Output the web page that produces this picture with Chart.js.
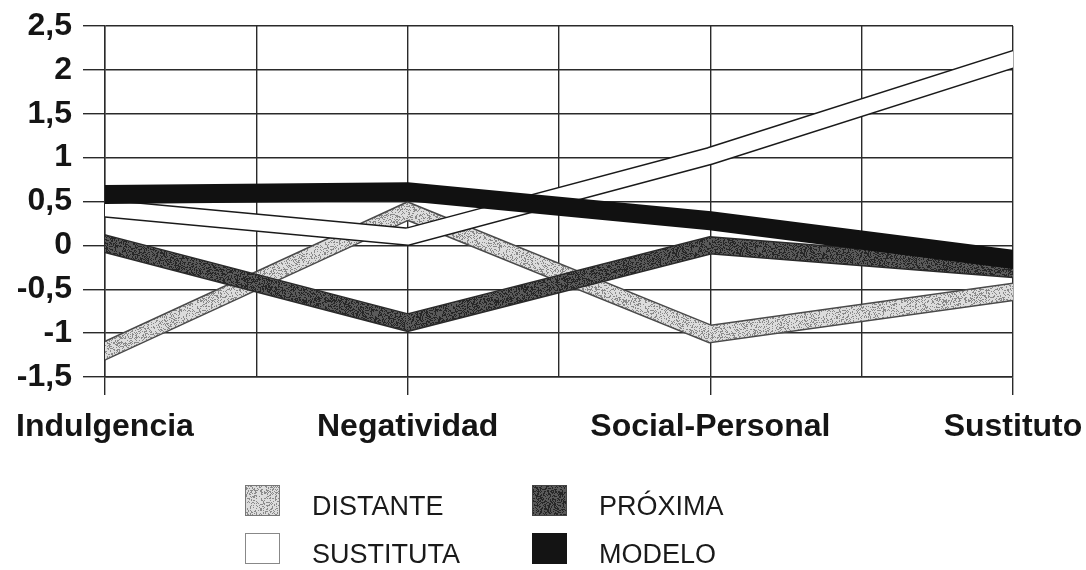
<!DOCTYPE html>
<html lang="es">
<head>
  <meta charset="UTF-8">
  <title>Estilos – gráfico de líneas</title>
  <script src="https://cdn.jsdelivr.net/npm/chart.js"></script>
  <style>
    html, body { margin: 0; padding: 0; background: #fff; }
    #wrap { position: relative; width: 1086px; height: 570px; }
  </style>
</head>
<body>
  <div id="wrap"><canvas id="grafico" width="1086" height="570"></canvas></div>

  <script>
    // Datos
    const categorias = ['Indulgencia', 'Negatividad', 'Social-Personal', 'Sustituto'];
    const distante  = [-1.20, 0.39, -1.01, -0.53];
    const proxima   = [0.02, -0.88, 0.00, -0.27];
    const sustituta = [0.42, 0.10, 1.02, 2.12];
    const modelo    = [0.58, 0.61, 0.28, -0.16];

    const yMin = -1.5, yMax = 2.5, yPaso = 0.5;
    const FUENTE = "'Liberation Sans', Arial, sans-serif";
    const GRIS_LINEA = '#2a2a2a';

    // Textura punteada (determinista) para imitar el tramado de la impresión
    function tramado(base, punto, umbral) {
      const c = document.createElement('canvas');
      c.width = c.height = 64;
      const g = c.getContext('2d');
      g.fillStyle = base;
      g.fillRect(0, 0, 64, 64);
      g.fillStyle = punto;
      for (let y = 0; y < 64; y++) {
        for (let x = 0; x < 64; x++) {
          let h = (Math.imul(x, 374761393) + Math.imul(y, 668265263)) | 0;
          h = Math.imul(h ^ (h >>> 13), 1274126177);
          h ^= h >>> 16;
          if ((h & 255) < umbral) g.fillRect(x, y, 1, 1);
        }
      }
      return g.createPattern(c, 'repeat');
    }
    const texClara  = tramado('#dcdcdc', '#8a8a8a', 80);
    const texOscura = tramado('#5a5a5a', '#262626', 110);

    const puntos = arr => arr.map((v, i) => ({ x: i, y: v }));

    // Cinta = línea de contorno + línea de relleno encima
    function cinta(etiqueta, valores, relleno, borde, orden) {
      const comun = {
        data: puntos(valores),
        pointRadius: 0,
        tension: 0,
        borderJoinStyle: 'miter',
        borderCapStyle: 'square',
        clip: { left: 0, right: 0, top: 30, bottom: 30 }
      };
      return [
        Object.assign({}, comun, { label: etiqueta + '_borde', borderColor: borde, borderWidth: 18.5, order: orden + 1 }),
        Object.assign({}, comun, { label: etiqueta, borderColor: relleno, borderWidth: 15.5, order: orden })
      ];
    }

    const datasets = [
      ...cinta('DISTANTE', distante, texClara, '#4a4a4a', 7),
      ...cinta('PRÓXIMA', proxima, texOscura, '#2a2a2a', 5),
      ...cinta('SUSTITUTA', sustituta, '#ffffff', '#1a1a1a', 3),
      {
        label: 'MODELO',
        data: puntos(modelo),
        borderColor: '#111111',
        borderWidth: 19,
        pointRadius: 0,
        borderJoinStyle: 'miter',
        borderCapStyle: 'square',
        clip: { left: 0, right: 0, top: 30, bottom: 30 },
        order: 1
      }
    ];

    // Leyenda en dos columnas dibujada en el propio lienzo
    const leyenda = {
      id: 'leyenda',
      afterDraw(chart) {
        const ctx = chart.ctx;
        const items = [
          { texto: 'DISTANTE', fondo: texClara, borde: '#777', x: 245, y: 485 },
          { texto: 'PRÓXIMA', fondo: texOscura, borde: '#444', x: 532, y: 485 },
          { texto: 'SUSTITUTA', fondo: '#ffffff', borde: '#888', x: 245, y: 533 },
          { texto: 'MODELO', fondo: '#141414', borde: '#141414', x: 532, y: 533 }
        ];
        ctx.save();
        ctx.font = '27px ' + FUENTE;
        ctx.textBaseline = 'alphabetic';
        items.forEach(it => {
          ctx.fillStyle = it.fondo;
          ctx.fillRect(it.x, it.y, 35, 31);
          ctx.strokeStyle = it.borde;
          ctx.lineWidth = 1;
          ctx.strokeRect(it.x + 0.5, it.y + 0.5, 34, 30);
          ctx.fillStyle = '#1a1a1a';
          ctx.fillText(it.texto, it.x + 67, it.y + 30);
        });
        ctx.restore();
      }
    };

    new Chart(document.getElementById('grafico'), {
      type: 'line',
      data: { datasets },
      plugins: [leyenda],
      options: {
        responsive: false,
        animation: false,
        layout: { padding: { top: 26, right: 73, bottom: 0, left: 0 } },
        plugins: {
          legend: { display: false },
          tooltip: { enabled: false }
        },
        scales: {
          x: {
            type: 'linear',
            min: 0,
            max: categorias.length - 1,
            afterFit: s => {
              s.height = 193;
              s.paddingLeft = 0;
              s.paddingRight = 0;
            },
            afterBuildTicks: s => {
              const t = [];
              for (let v = 0; v <= categorias.length - 1; v += 0.5) t.push({ value: v });
              s.ticks = t;
            },
            ticks: {
              autoSkip: false,
              maxRotation: 0,
              padding: 13,
              color: '#151515',
              font: { family: FUENTE, size: 32, weight: 'bold' },
              callback: v => Number.isInteger(v) ? categorias[v] : ''
            },
            grid: {
              color: GRIS_LINEA,
              lineWidth: 1.4,
              tickLength: 18,
              tickColor: c => Number.isInteger(c.tick.value) ? GRIS_LINEA : 'rgba(0,0,0,0)'
            },
            border: { color: GRIS_LINEA, width: 1.4 }
          },
          y: {
            min: yMin,
            max: yMax,
            afterFit: s => {
              s.width = 105;
              s.paddingTop = 0;
              s.paddingBottom = 0;
            },
            ticks: {
              stepSize: yPaso,
              padding: 11,
              color: '#151515',
              font: { family: FUENTE, size: 32, weight: 'bold' },
              callback: v => String(v).replace('.', ',')
            },
            grid: { color: GRIS_LINEA, lineWidth: 1.4, tickLength: 22 },
            border: { color: GRIS_LINEA, width: 1.4 }
          }
        }
      }
    });
  </script>
</body>
</html>
